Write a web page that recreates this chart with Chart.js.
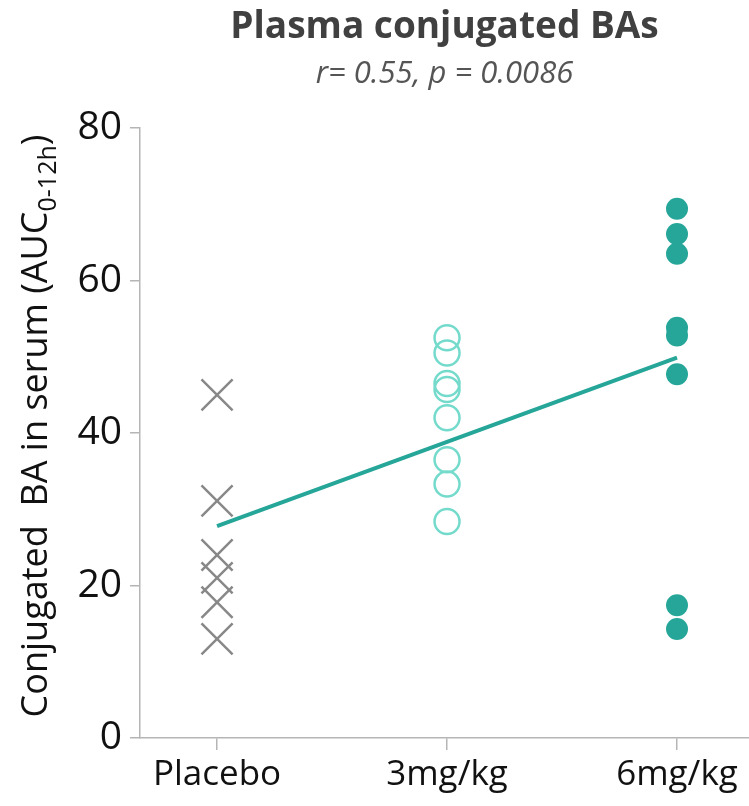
<!DOCTYPE html>
<html>
<head>
<meta charset="utf-8">
<script src="https://cdn.jsdelivr.net/npm/chart.js@4/dist/chart.umd.min.js"></script>
<style>
  html, body { margin: 0; padding: 0; background: #ffffff; }
  #wrap { width: 749px; height: 806px; }
</style>
</head>
<body>
<div id="wrap"><canvas id="chart" width="749" height="806"></canvas></div>
<script>
// Groups along the x axis
const categories = ['Placebo', '3mg/kg', '6mg/kg'];

// Conjugated BA AUC(0-12h) per subject
const placeboValues = [45.0, 31.1, 24.0, 21.0, 17.8, 13.0];
const dose3Values = [52.5, 50.5, 46.5, 45.7, 42.0, 36.5, 33.3, 28.4];
const dose6Values = [69.4, 66.1, 63.5, 53.8, 52.8, 47.7, 17.4, 14.3];

// Fitted trend line at the Placebo and 6mg/kg positions
const trendValues = [27.8, 49.9];

const yTicks = [0, 20, 40, 60, 80];

const titleText = 'Plasma conjugated BAs';
const subtitleText = 'r= 0.55, p = 0.0086';

const FONT = "'Open Sans', 'Noto Sans', sans-serif";
const AXIS_GREY = '#b5b5b5';

function toPoints(values, xIndex) {
  return values.map(v => ({ x: xIndex, y: v }));
}

// Title, subtitle and the rotated y-axis title with a subscript
const annotations = {
  id: 'annotations',
  afterDraw(chart) {
    const { ctx, chartArea } = chart;
    const cx = (chartArea.left + chartArea.right) / 2;
    ctx.save();
    ctx.textAlign = 'center';
    ctx.textBaseline = 'alphabetic';
    ctx.fillStyle = '#404040';
    ctx.font = `bold 37px ${FONT}`;
    ctx.fillText(titleText, cx, 38);
    ctx.fillStyle = '#555555';
    ctx.font = `italic 31px ${FONT}`;
    ctx.fillText(subtitleText, cx, 83);
    ctx.restore();

    // y-axis title
    const main = 'Conjugated  BA in serum (AUC';
    const sub = '0-12h';
    const close = ')';
    const mainFont = `36px ${FONT}`;
    const subFont = `25px ${FONT}`;
    ctx.save();
    ctx.fillStyle = '#111111';
    ctx.font = mainFont;
    const wMain = ctx.measureText(main).width;
    const wClose = ctx.measureText(close).width;
    ctx.font = subFont;
    const wSub = ctx.measureText(sub).width;
    const total = wMain + wSub + wClose;
    ctx.translate(47, 426);
    ctx.rotate(-Math.PI / 2);
    ctx.textAlign = 'left';
    ctx.textBaseline = 'alphabetic';
    let x = -total / 2;
    ctx.font = mainFont;
    ctx.fillText(main, x, 0);
    x += wMain;
    ctx.font = subFont;
    ctx.fillText(sub, x, 9);
    x += wSub;
    ctx.font = mainFont;
    ctx.fillText(close, x, 0);
    ctx.restore();
  }
};

const chart = new Chart(document.getElementById('chart'), {
  type: 'scatter',
  data: {
    datasets: [
      {
        type: 'line',
        label: 'Trend',
        data: [{ x: 0, y: trendValues[0] }, { x: 2, y: trendValues[1] }],
        borderColor: '#26a699',
        borderWidth: 4,
        pointRadius: 0,
        fill: false
      },
      {
        label: categories[0],
        data: toPoints(placeboValues, 0),
        pointStyle: 'crossRot',
        pointRadius: 22,
        pointBorderWidth: 2.5,
        borderColor: '#888888',
        backgroundColor: '#888888'
      },
      {
        label: categories[1],
        data: toPoints(dose3Values, 1),
        pointStyle: 'circle',
        pointRadius: 12.5,
        pointBorderWidth: 2.5,
        borderColor: '#74dbcc',
        backgroundColor: 'rgba(0,0,0,0)'
      },
      {
        label: categories[2],
        data: toPoints(dose6Values, 2),
        pointStyle: 'circle',
        pointRadius: 11,
        pointBorderWidth: 0,
        borderColor: '#26a699',
        backgroundColor: '#26a699'
      }
    ]
  },
  options: {
    responsive: false,
    animation: false,
    layout: { autoPadding: false, padding: { top: 128, right: 0, bottom: 0, left: 0 } },
    plugins: {
      legend: { display: false },
      tooltip: { enabled: false },
      title: { display: false }
    },
    scales: {
      x: {
        type: 'linear',
        min: -0.335,
        max: 2.313,
        afterBuildTicks(scale) {
          scale.ticks = categories.map((_, i) => ({ value: i }));
        },
        afterFit(scale) {
          scale.height = 68;
          scale.paddingLeft = 0;
          scale.paddingRight = 0;
        },
        ticks: {
          callback: v => categories[v],
          color: '#111111',
          font: { family: FONT, size: 35 },
          padding: 4,
          maxRotation: 0,
          autoSkip: false
        },
        grid: {
          drawOnChartArea: false,
          drawTicks: true,
          tickLength: 12,
          color: AXIS_GREY,
          lineWidth: 1.5
        },
        border: { display: true, color: AXIS_GREY, width: 1.5 }
      },
      y: {
        type: 'linear',
        min: 0,
        max: 80,
        afterBuildTicks(scale) {
          scale.ticks = yTicks.map(v => ({ value: v }));
        },
        afterFit(scale) {
          scale.width = 140;
          scale.paddingTop = 0;
          scale.paddingBottom = 0;
        },
        ticks: {
          color: '#111111',
          font: { family: FONT, size: 39 },
          padding: 8
        },
        grid: {
          drawOnChartArea: false,
          drawTicks: true,
          tickLength: 10,
          color: AXIS_GREY,
          lineWidth: 1.5
        },
        border: { display: true, color: AXIS_GREY, width: 1.5 }
      }
    }
  },
  plugins: [annotations]
});
</script>
</body>
</html>
